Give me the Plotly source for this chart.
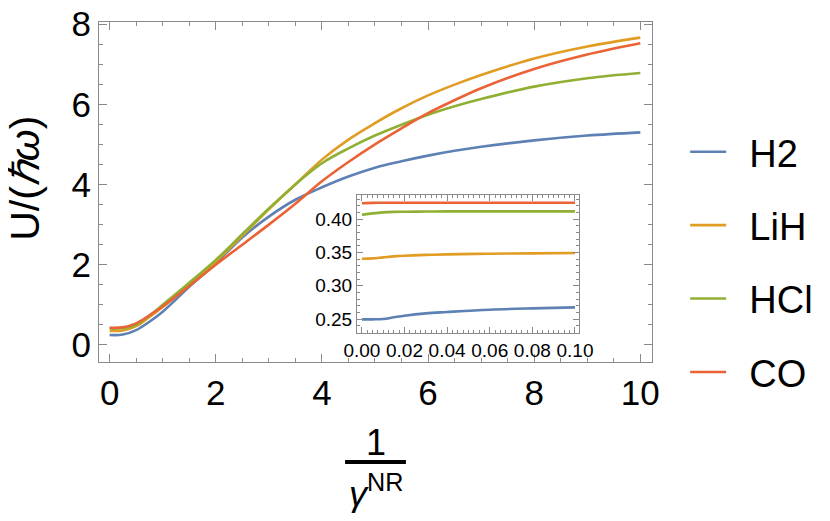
import plotly.graph_objects as go

# ---------------- data ----------------
names = ["H2", "LiH", "HCl", "CO"]
colors = ["#5E81B5", "#E19C24", "#8FB032", "#EB6235"]

x_main = [0, 0.25, 0.5, 0.75, 1, 1.5, 2, 2.5, 3, 3.5, 4, 4.5, 5, 5.5, 6, 6.5, 7, 8, 9, 10]
h2_main = [0.25, 0.26, 0.37, 0.58, 0.83, 1.45, 2.04, 2.68, 3.20, 3.62, 3.93, 4.20, 4.42, 4.58, 4.72, 4.84, 4.94, 5.10, 5.22, 5.30]
lih_main = [0.35, 0.36, 0.47, 0.70, 0.95, 1.50, 2.08, 2.72, 3.38, 4.00, 4.62, 5.12, 5.53, 5.90, 6.22, 6.49, 6.73, 7.14, 7.44, 7.66]
hcl_main = [0.41, 0.42, 0.50, 0.73, 1.00, 1.55, 2.12, 2.76, 3.40, 4.00, 4.53, 4.90, 5.22, 5.49, 5.74, 5.95, 6.13, 6.44, 6.65, 6.78]
co_main = [0.43, 0.44, 0.54, 0.74, 0.96, 1.47, 2.00, 2.50, 3.00, 3.52, 4.08, 4.56, 5.00, 5.40, 5.78, 6.10, 6.40, 6.88, 7.24, 7.52]

x_inset = [0, 0.005, 0.01, 0.015, 0.02, 0.03, 0.04, 0.06, 0.08, 0.1]
h2_inset = [0.2495, 0.2495, 0.2500, 0.2525, 0.2550, 0.2585, 0.2605, 0.2640, 0.2660, 0.2675]
lih_inset = [0.3405, 0.3410, 0.3425, 0.3440, 0.3450, 0.3462, 0.3470, 0.3480, 0.3485, 0.3490]
hcl_inset = [0.4065, 0.4085, 0.4100, 0.4107, 0.4110, 0.4113, 0.4115, 0.4115, 0.4115, 0.4115]
co_inset = [0.4238, 0.4243, 0.4245, 0.4245, 0.4245, 0.4245, 0.4245, 0.4245, 0.4245, 0.4245]

main_series = [h2_main, lih_main, hcl_main, co_main]
inset_series = [h2_inset, lih_inset, hcl_inset, co_inset]

main_xticks = [0, 2, 4, 6, 8, 10]
main_yticks = [0, 2, 4, 6, 8]
inset_xticks = [0.00, 0.02, 0.04, 0.06, 0.08, 0.10]
inset_yticks = [0.25, 0.30, 0.35, 0.40]

FONT = "Liberation Sans, Arial, sans-serif"
FRAME = "#8a8a8a"
GAP = "\u00a0\u2009"  # space between legend line and label

fig = go.Figure()

for i, (nm, col) in enumerate(zip(names, colors)):
    fig.add_trace(go.Scatter(
        x=x_main, y=main_series[i], mode="lines", name=GAP + nm,
        line=dict(color=col, width=2.6, shape="spline", smoothing=1.0),
        legendgroup=nm, xaxis="x", yaxis="y"))

for i, (nm, col) in enumerate(zip(names, colors)):
    fig.add_trace(go.Scatter(
        x=x_inset, y=inset_series[i], mode="lines", name=nm,
        line=dict(color=col, width=2.6, shape="spline", smoothing=1.0),
        legendgroup=nm, showlegend=False, xaxis="x2", yaxis="y2"))


def axis_common(size):
    return dict(
        showline=True, linecolor=FRAME, linewidth=1, mirror="allticks",
        ticks="inside", tickcolor=FRAME, tickwidth=1,
        showgrid=False, zeroline=False, automargin=False,
        ticklabeloverflow="allow",
        tickfont=dict(family=FONT, size=size, color="black"),
    )


# the page body has an 8px default margin (top/left), so the figure is 8px smaller
fig.update_layout(
    width=822, height=513,
    margin=dict(l=91, r=178, t=14, b=159, autoexpand=False),
    paper_bgcolor="white", plot_bgcolor="white",
    font=dict(family=FONT, color="black"),
    xaxis=dict(domain=[0, 1], range=[-0.2, 10.22], tickvals=main_xticks,
               ticklen=8, ticklabelstandoff=0,
               minor=dict(ticks="inside", dtick=0.5, ticklen=4, tickcolor=FRAME, showgrid=False),
               **axis_common(35)),
    yaxis=dict(domain=[0, 1], range=[-0.424, 8.05], tickvals=main_yticks,
               ticklen=8,
               minor=dict(ticks="inside", dtick=0.5, ticklen=4, tickcolor=FRAME, showgrid=False),
               **axis_common(35)),
    xaxis2=dict(domain=[0.4665, 0.868], anchor="y2", range=[-0.0023, 0.1019],
                tickvals=inset_xticks, tickformat=".2f", ticklen=6,
                minor=dict(ticks="inside", dtick=0.0025, ticklen=3, tickcolor=FRAME, showgrid=False),
                **axis_common(19)),
    yaxis2=dict(domain=[0.0853, 0.491], anchor="x2", range=[0.229, 0.436],
                tickvals=inset_yticks, tickformat=".2f", ticklen=6,
                minor=dict(ticks="inside", dtick=0.01, ticklen=3, tickcolor=FRAME, showgrid=False),
                **axis_common(19)),
    legend=dict(x=1.06, y=0.294, xanchor="left", yanchor="middle",
                font=dict(family=FONT, size=38, color="black"),
                tracegroupgap=21, itemwidth=36, bgcolor="rgba(0,0,0,0)"),
    showlegend=True,
)

# y-axis title
fig.add_annotation(text="U/(<i>ℏω</i>)", xref="paper", yref="paper",
                   x=-0.133, y=0.54, xanchor="center", yanchor="middle",
                   textangle=-90, showarrow=False,
                   font=dict(family=FONT, size=41, color="black"))

# x-axis title as fraction 1 / gamma^NR
fig.add_annotation(text="1", xref="paper", yref="paper", x=0.5, y=-0.238,
                   xanchor="center", yanchor="middle", showarrow=False,
                   font=dict(family=FONT, size=36, color="black"))
fig.add_shape(type="line", xref="paper", yref="paper",
              x0=0.445, x1=0.555, y0=-0.294, y1=-0.294,
              line=dict(color="black", width=4))
fig.add_annotation(text="<i>γ</i><sup>NR</sup>", xref="paper", yref="paper",
                   x=0.5, y=-0.38, xanchor="center", yanchor="middle", showarrow=False,
                   font=dict(family=FONT, size=36, color="black"))

fig.write_html("out.html")
